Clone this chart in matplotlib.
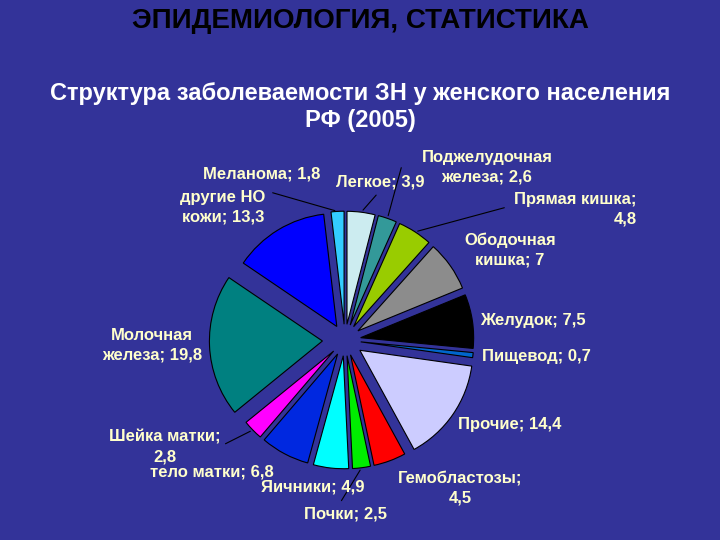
import numpy as np
import matplotlib.pyplot as plt

plt.rcParams['font.family'] = ['Liberation Sans', 'DejaVu Sans']

# data: clockwise from 12 o'clock
labels = ['Легкое; 3,9', 'Поджелудочная\nжелеза; 2,6', 'Прямая кишка;\n4,8',
          'Ободочная\nкишка; 7', 'Желудок; 7,5', 'Пищевод; 0,7', 'Прочие; 14,4',
          'Гемобластозы;\n4,5', 'Почки; 2,5', 'Яичники; 4,9', 'тело матки; 6,8',
          'Шейка матки;\n2,8', 'Молочная\nжелеза; 19,8', 'другие НО\nкожи; 13,3',
          'Меланома; 1,8']
values = [3.9, 2.6, 4.8, 7.0, 7.5, 0.7, 14.4, 4.5, 2.5, 4.9, 6.8, 2.8, 19.8, 13.3, 1.8]
colors = ['#CCECF0', '#339999', '#99CC00', '#8C8C8C', '#000000', '#0066CC', '#CCCCFF',
          '#FF0000', '#00EE00', '#00FFFF', '#0028E0', '#FF00FF', '#008080', '#0000FF',
          '#33CCFF']

# label placement (figure pixels, from top-left), alignment, leader line?
label_pos = [(380, 182, 'center', True), (487, 167, 'center', True), (637, 209, 'right', True),
             (510, 250, 'center', False), (480, 320, 'left', False), (482, 356, 'left', False),
             (458, 425, 'left', False), (460, 488, 'center', False), (345, 514, 'center', True),
             (313, 487, 'center', False), (212, 472, 'center', False), (165, 447, 'center', True),
             (152, 345, 'center', False), (223, 207, 'center', False), (262, 174, 'center', True)]
leader_from = {0: (378, 193), 1: (402, 165), 2: (507, 207), 8: (340, 503),
               11: (223, 445), 14: (270, 192)}

W, H = 720, 540
bg = '#333399'
fig = plt.figure(figsize=(7.2, 5.4), dpi=100, facecolor=bg)

cx, cy, R = 345, 340, 113
lim = 1.6
size = 2 * lim * R
ax = fig.add_axes([(cx - size / 2) / W, 1 - (cy + size / 2) / H, size / W, size / H])
ax.set_facecolor(bg)

explode = [0.14] * len(values)
explode[12] = 0.2
explode[6] = 0.16
wedges, _ = ax.pie(values, colors=colors, startangle=90, counterclock=False,
                   explode=explode, radius=1,
                   wedgeprops=dict(edgecolor='black', linewidth=0.8))
ax.set_xlim(-lim, lim)
ax.set_ylim(-lim, lim)
ax.set_aspect('equal')
ax.axis('off')

fig.text(0.5, 1 - 21 / H, 'ЭПИДЕМИОЛОГИЯ, СТАТИСТИКА', ha='center', va='center',
         fontsize=20, fontweight='bold', color='black')
fig.text(0.5, 1 - 107 / H, 'Структура заболеваемости ЗН у женского населения\nРФ (2005)',
         ha='center', va='center', fontsize=17, fontweight='bold', color='white',
         linespacing=1.25)

for i, (lab, w) in enumerate(zip(labels, wedges)):
    x, y, ha, lead = label_pos[i]
    fig.text(x / W, 1 - y / H, lab, ha=ha, va='center', fontsize=12,
             fontweight='bold', color='#FFFFCC', linespacing=1.35)
    if lead:
        ang = np.deg2rad((w.theta1 + w.theta2) / 2)
        r = 1 + explode[i]
        px, py = leader_from[i]
        ax.annotate('', xy=(r * np.cos(ang), r * np.sin(ang)), xycoords='data',
                    xytext=(px / W, 1 - py / H), textcoords='figure fraction',
                    arrowprops=dict(arrowstyle='-', color='black', lw=0.8))

fig.savefig('out.png', dpi=100, facecolor=bg)
